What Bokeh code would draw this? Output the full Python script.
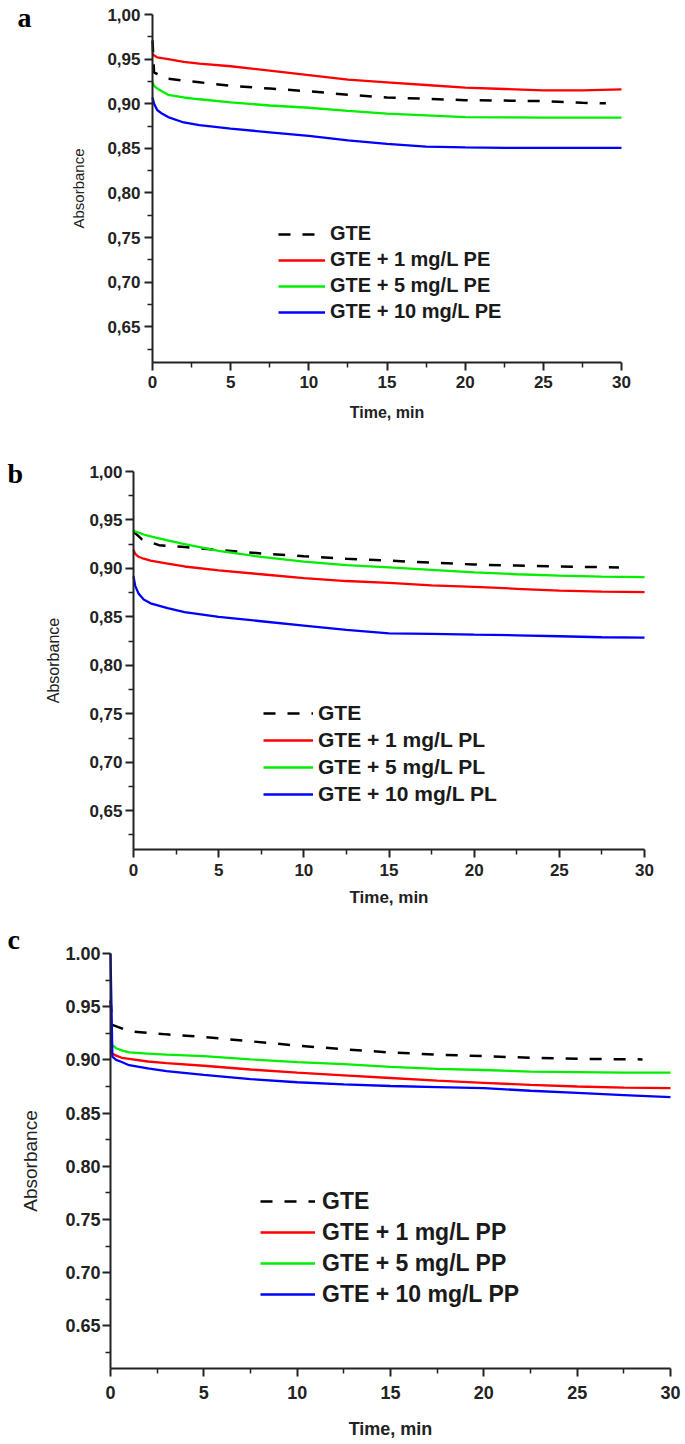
from bokeh.plotting import figure
from bokeh.layouts import column
from bokeh.models import FixedTicker, CustomJSTickFormatter, PrintfTickFormatter, Label, Range1d
from bokeh.embed import file_html
from bokeh.resources import INLINE

# ---------------- data ----------------
x_major = [0, 5, 10, 15, 20, 25, 30]
x_minor = [2.5, 7.5, 12.5, 17.5, 22.5, 27.5]
y_major = [0.65, 0.70, 0.75, 0.80, 0.85, 0.90, 0.95, 1.00]
y_minor = [0.625, 0.675, 0.725, 0.775, 0.825, 0.875, 0.925, 0.975]
x_limits = (0, 30)
y_limits = (0.61, 1.00)

time = [0, 0.1, 0.3, 0.6, 1, 2, 3, 5, 7.5, 10, 12.5, 15, 17.5, 20, 22.5, 25, 27.5, 30]

# panel a (PE)
time_gte_a = [0, 0.1, 1, 2, 3, 5, 7.5, 10, 12.5, 15, 17.5, 20, 22.5, 25, 27.5, 29]
gte_a = [0.971, 0.935, 0.928, 0.926, 0.924, 0.920, 0.917, 0.914, 0.910, 0.907, 0.9055, 0.904, 0.9035, 0.903, 0.901, 0.9005]
pe1_a = [0.956, 0.954, 0.952, 0.951, 0.950, 0.947, 0.945, 0.942, 0.937, 0.932, 0.927, 0.924, 0.921, 0.918, 0.9165, 0.915, 0.915, 0.916]
pe5_a = [0.924, 0.920, 0.917, 0.914, 0.910, 0.907, 0.905, 0.9015, 0.898, 0.8955, 0.892, 0.889, 0.887, 0.885, 0.8848, 0.8845, 0.8845, 0.8845]
pe10_a = [0.907, 0.900, 0.893, 0.889, 0.885, 0.879, 0.876, 0.872, 0.868, 0.864, 0.859, 0.855, 0.852, 0.851, 0.8505, 0.8505, 0.8505, 0.8505]

# panel b (PL)
time_gte_b = [0, 0.5, 1.5, 3, 5, 7.5, 10, 12.5, 15, 17.5, 20, 22.5, 25, 28.5]
gte_b = [0.938, 0.930, 0.924, 0.922, 0.919, 0.9155, 0.9125, 0.910, 0.908, 0.906, 0.904, 0.903, 0.902, 0.901]
pl1_b = [0.919, 0.915, 0.912, 0.910, 0.908, 0.905, 0.902, 0.898, 0.894, 0.890, 0.887, 0.885, 0.8825, 0.881, 0.879, 0.877, 0.876, 0.8755]
pl5_b = [0.939, 0.938, 0.937, 0.935, 0.933, 0.929, 0.925, 0.918, 0.912, 0.907, 0.9035, 0.901, 0.8985, 0.896, 0.894, 0.8925, 0.8915, 0.891]
pl10_b = [0.892, 0.882, 0.874, 0.868, 0.864, 0.859, 0.855, 0.850, 0.8455, 0.841, 0.8365, 0.833, 0.8325, 0.8316, 0.831, 0.830, 0.829, 0.8285]

# panel c (PP)
time_gte_c = [0, 0.1, 1, 2, 3, 5, 7.5, 10, 12.5, 15, 17.5, 20, 22.5, 25, 28.5]
gte_c = [0.956, 0.933, 0.927, 0.9255, 0.924, 0.9215, 0.9175, 0.9135, 0.910, 0.907, 0.905, 0.9035, 0.902, 0.901, 0.9005]
pp1_c = [0.909, 0.906, 0.904, 0.902, 0.901, 0.8985, 0.897, 0.8945, 0.891, 0.888, 0.8855, 0.883, 0.8805, 0.8785, 0.8765, 0.875, 0.874, 0.8735]
pp5_c = [0.918, 0.914, 0.911, 0.909, 0.907, 0.906, 0.905, 0.9035, 0.9005, 0.898, 0.896, 0.8935, 0.8915, 0.8905, 0.889, 0.8885, 0.888, 0.888]
pp10_c = [1.000, 0.903, 0.900, 0.898, 0.895, 0.892, 0.8895, 0.886, 0.882, 0.879, 0.877, 0.8755, 0.8745, 0.8735, 0.871, 0.869, 0.867, 0.865]

labels_a = ["GTE", "GTE + 1 mg/L PE", "GTE + 5 mg/L PE", "GTE + 10 mg/L PE"]
labels_b = ["GTE", "GTE + 1 mg/L PL", "GTE + 5 mg/L PL", "GTE + 10 mg/L PL"]
labels_c = ["GTE", "GTE + 1 mg/L PP", "GTE + 5 mg/L PP", "GTE + 10 mg/L PP"]

FONT = "Liberation Sans"
COLORS = ["#000000", "#ff0000", "#00ee00", "#0000ff"]
FIG_W = 685


def make_panel(letter, t_gte, gte, series, labels, comma, cfg):
    # geometry: the frame covers the whole figure; axes sit at fixed data locations
    L, T, PW, PH, H = cfg["pl"], cfg["pt"], cfg["pw"], cfg["ph"], cfg["h"]
    x0, x1 = x_limits
    y0, y1 = y_limits
    sx = (x1 - x0) / PW
    sy = (y1 - y0) / PH
    xr = Range1d(x0 - L * sx, x0 + (FIG_W - L) * sx)
    yr = Range1d(y1 - (H - T) * sy, y1 + T * sy)

    p = figure(output_backend="svg", toolbar_location=None,
               width=FIG_W, height=H, min_border=0,
               min_border_left=0, min_border_right=0, min_border_top=0, min_border_bottom=0,
               x_range=xr, y_range=yr,
               background_fill_color="white", border_fill_color="white")
    p.outline_line_color = None
    p.grid.visible = False

    p.line(t_gte, gte, line_color=COLORS[0], line_width=2.5, line_dash="12 12",
           legend_label=labels[0])
    for ys, col, lab in zip(series, COLORS[1:], labels[1:]):
        p.line(time, ys, line_color=col, line_width=2.3, legend_label=lab)

    for ax in (p.xaxis[0], p.yaxis[0]):
        ax.axis_line_width = 2
        ax.axis_line_color = "#222222"
        ax.major_tick_line_width = 2
        ax.major_tick_line_color = "#222222"
        ax.minor_tick_line_width = 1.5
        ax.minor_tick_line_color = "#222222"
        ax.major_tick_in = 0
        ax.major_tick_out = 8
        ax.minor_tick_in = 0
        ax.minor_tick_out = 5
        ax.major_label_text_font = FONT
        ax.major_label_text_font_style = "bold"
        ax.major_label_text_font_size = cfg["tick_fs"]
        ax.major_label_text_color = "#222222"
        ax.axis_label_text_font = FONT
        ax.axis_label_text_color = "#222222"

    xa = p.xaxis[0]
    xa.fixed_location = y0
    xa.bounds = x_limits
    xa.ticker = FixedTicker(ticks=x_major, minor_ticks=x_minor)
    xa.major_label_standoff = cfg["xts"]
    xa.axis_label = "Time, min"
    xa.axis_label_text_font_style = "bold"
    xa.axis_label_text_font_size = cfg["xl_fs"]
    xa.axis_label_standoff = cfg["xls"]

    ya = p.yaxis[0]
    ya.fixed_location = x0
    ya.bounds = y_limits
    ya.ticker = FixedTicker(ticks=y_major, minor_ticks=y_minor)
    if comma:
        ya.formatter = CustomJSTickFormatter(code="return tick.toFixed(2).replace('.', ',');")
    else:
        ya.formatter = PrintfTickFormatter(format="%.2f")
    ya.major_label_standoff = cfg["yts"]
    ya.axis_label = "Absorbance"
    ya.axis_label_text_font_style = "normal"
    ya.axis_label_text_font_size = cfg["yl_fs"]
    ya.axis_label_standoff = cfg["yls"]

    lg = p.legend[0]
    lg.location = cfg["leg_loc"]
    lg.padding = 0
    lg.margin = 0
    lg.spacing = 3
    lg.border_line_alpha = 0
    lg.background_fill_alpha = 0
    lg.glyph_width = cfg["gw"]
    lg.glyph_height = cfg["gh"]
    lg.label_height = cfg["gh"]
    lg.label_standoff = cfg["lstand"]
    lg.label_text_font = FONT
    lg.label_text_font_style = "bold"
    lg.label_text_font_size = cfg["leg_fs"]
    lg.label_text_color = "#1a1a1a"

    p.add_layout(Label(x=x0, y=y1, x_units="data", y_units="data",
                       x_offset=cfg["let_off"][0], y_offset=cfg["let_off"][1],
                       text=letter, text_font="Liberation Serif", text_font_style="bold",
                       text_font_size="28px", text_color="#000000",
                       text_baseline="alphabetic", text_align="left"))
    return p


cfg_a = dict(pl=152, pt=14, pw=469, ph=348, h=440, tick_fs="17px", xts=5, yts=4,
             xl_fs="16px", xls=13, yl_fs="15px", yls=17, leg_loc=(278, 117), gw=47, gh=22,
             lstand=5, leg_fs="20px", let_off=(-135, -3))
cfg_b = dict(pl=133, pt=31, pw=511, ph=378, h=472, tick_fs="17px", xts=6, yts=3,
             xl_fs="17px", xls=9, yl_fs="16px", yls=24, leg_loc=(263, 106), gw=50, gh=24,
             lstand=5, leg_fs="21px", let_off=(-126, -2))
cfg_c = dict(pl=110, pt=41, pw=560, ph=415, h=532, tick_fs="18px", xts=9, yts=2,
             xl_fs="18px", xls=17, yl_fs="19px", yls=21, leg_loc=(260, 136), gw=55, gh=28,
             lstand=7, leg_fs="23px", let_off=(-103, 14))

pa = make_panel("a", time_gte_a, gte_a, [pe1_a, pe5_a, pe10_a], labels_a, True, cfg_a)
pb = make_panel("b", time_gte_b, gte_b, [pl1_b, pl5_b, pl10_b], labels_b, True, cfg_b)
pc = make_panel("c", time_gte_c, gte_c, [pp1_c, pp5_c, pp10_c], labels_c, False, cfg_c)

layout = column(pa, pb, pc, spacing=0)
open("out.html", "w").write(file_html(layout, INLINE))
